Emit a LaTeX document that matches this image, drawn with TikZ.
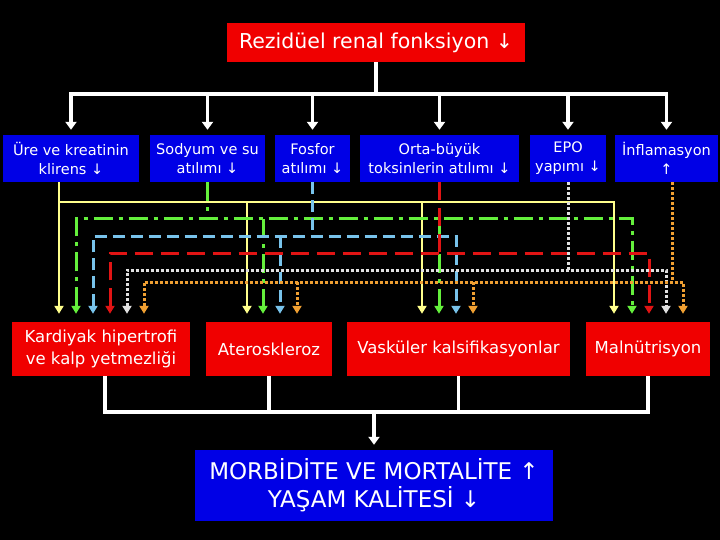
\documentclass[tikz,border=0pt]{standalone}
\usepackage{fontspec}
\setmainfont{DejaVu Sans}
\usetikzlibrary{positioning,arrows.meta}

\definecolor{boxblue}{RGB}{0,0,230}
\definecolor{boxred}{RGB}{240,0,0}
\definecolor{lnyellow}{RGB}{255,255,140}
\definecolor{lngreen}{RGB}{100,240,60}
\definecolor{lnblue}{RGB}{120,195,235}
\definecolor{lnred}{RGB}{225,20,20}
\definecolor{lngray}{RGB}{225,225,225}
\definecolor{lnorange}{RGB}{240,160,50}

\tikzset{
  cause/.style={rectangle,fill=boxblue,text=white,align=center,
    minimum height=47pt,inner sep=0pt,font=\fontsize{14.5}{19}\selectfont},
  effect/.style={rectangle,fill=boxred,text=white,align=center,
    minimum height=54pt,inner sep=0pt,font=\fontsize{16.5}{22}\selectfont},
  wline/.style={draw=white,line width=3.5pt},
  warrow/.style={wline,-{Triangle[width=11pt,length=8pt]},shorten >=5pt},
  wboth/.style={wline,{Triangle[width=11pt,length=8pt]}-{Triangle[width=11pt,length=8pt]},
    shorten <=5pt,shorten >=5pt},
  drop/.style={-{Triangle[width=9pt,length=8pt]},shorten >=8pt},
  both/.style={{Triangle[width=9pt,length=8pt]}-{Triangle[width=9pt,length=8pt]},
    shorten <=8pt,shorten >=8pt},
  ylw/.style={draw=lnyellow,line width=2.6pt},
  grn/.style={draw=lngreen,line width=3pt,dash pattern=on 19pt off 6pt on 4pt off 6pt},
  blu/.style={draw=lnblue,line width=3pt,dash pattern=on 12pt off 6pt},
  rd/.style={draw=lnred,line width=3pt,dash pattern=on 18pt off 8pt},
  gry/.style={draw=lngray,line width=3pt,dash pattern=on 3pt off 2pt},
  org/.style={draw=lnorange,line width=3pt,dash pattern=on 3pt off 2pt},
}

\begin{document}
\begin{tikzpicture}[x={(1pt,0pt)},y={(0pt,-1pt)}]
  \fill[black] (0,0) rectangle (720,540);

  \node[fill=boxred,text=white,minimum width=298pt,minimum height=39pt,inner sep=0pt,
    font=\fontsize{20.5}{24}\selectfont] (title) at (376,42.5) {Rezidüel renal fonksiyon ↓};

  \node[cause,minimum width=136pt] (ure) at (71,158.5) {Üre ve kreatinin\\klirens ↓};
  \node[cause,minimum width=115pt] (sodyum) at (207.5,158.5) {Sodyum ve su\\atılımı ↓};
  \node[cause,minimum width=75pt] (fosfor) at (312.5,158.5) {Fosfor\\atılımı ↓};
  \node[cause,minimum width=159pt] (orta) at (439.5,158.5) {Orta-büyük\\toksinlerin atılımı ↓};
  \node[cause,minimum width=76pt] (epo) at (568,158.5) {EPO\\yapımı ↓};
  \node[cause,minimum width=103pt] (infl) at (666.5,158.5) {İnflamasyon\\↑};

  \node[effect,minimum width=178pt] (kardiyak) at (101,349) {Kardiyak hipertrofi\\ve kalp yetmezliği};
  \node[effect,minimum width=126pt] (atero) at (269,349) {Ateroskleroz};
  \node[effect,minimum width=223pt] (vaskuler) at (458.5,349) {Vasküler kalsifikasyonlar};
  \node[effect,minimum width=124pt] (maln) at (648,349) {Malnütrisyon};

  \node[fill=boxblue,text=white,align=center,minimum width=358pt,minimum height=71pt,
    inner sep=0pt,font=\fontsize{23}{28}\selectfont] (sonuc) at (374,485.5)
    {MORBİDİTE VE MORTALİTE ↑\\YAŞAM KALİTESİ ↓};

  % white tree at the top
  \coordinate (hub) at (376,94);
  \draw[wline] (title.south) -- (hub);
  \draw[wboth] (ure.north) |- (hub) -| (infl.north);
  \foreach \n in {sodyum,fosfor,orta,epo}
    \draw[warrow] (\n.north |- hub) -- (\n.north);

  % yellow
  \draw[ylw,drop] (ure.south -| 59,0) -- (kardiyak.north -| 59,0);
  \draw[ylw,drop] (59,202) -| (maln.north -| 614,0);
  \foreach \x/\t in {247/atero,422/vaskuler}
    \draw[ylw,drop] (\x,202) -- (\t.north -| \x,0);

  % green
  \draw[grn] (sodyum.south) -- (sodyum.south |- 0,219);
  \draw[grn,both] (kardiyak.north -| 76,0) |- (632,219) -- (maln.north -| 632,0);
  \foreach \x/\t in {263/atero,439/vaskuler}
    \draw[grn,drop] (\x,219) -- (\t.north -| \x,0);

  % blue
  \draw[blu] (fosfor.south) -- (fosfor.south |- 0,236);
  \draw[blu,both] (kardiyak.north -| 93,0) |- (456,236) -- (vaskuler.north -| 456,0);
  \draw[blu,drop] (280,236) -- (atero.north -| 280,0);

  % red
  \draw[rd] (orta.south) -- (orta.south |- 0,253);
  \draw[rd,both] (kardiyak.north -| 110,0) |- (649,253) -- (maln.north -| 649,0);

  % gray
  \draw[gry] (epo.south) -- (epo.south |- 0,270);
  \draw[gry,both] (kardiyak.north -| 127,0) |- (666,270) -- (maln.north -| 666,0);

  % orange
  \draw[org] (infl.south -| 672,0) -- (672,282);
  \draw[org,both] (kardiyak.north -| 144,0) |- (683,282) -- (maln.north -| 683,0);
  \foreach \x/\t in {297/atero,473/vaskuler}
    \draw[org,drop] (\x,282) -- (\t.north -| \x,0);

  % white tree at the bottom
  \coordinate (sink) at (374,412);
  \draw[wline] ([xshift=4pt]kardiyak.south) |- (sink) -| (maln.south);
  \foreach \n in {atero,vaskuler}
    \draw[wline] (\n.south) -- (\n.south |- sink);
  \draw[warrow] (sink) -- (sonuc.north);
\end{tikzpicture}
\end{document}
